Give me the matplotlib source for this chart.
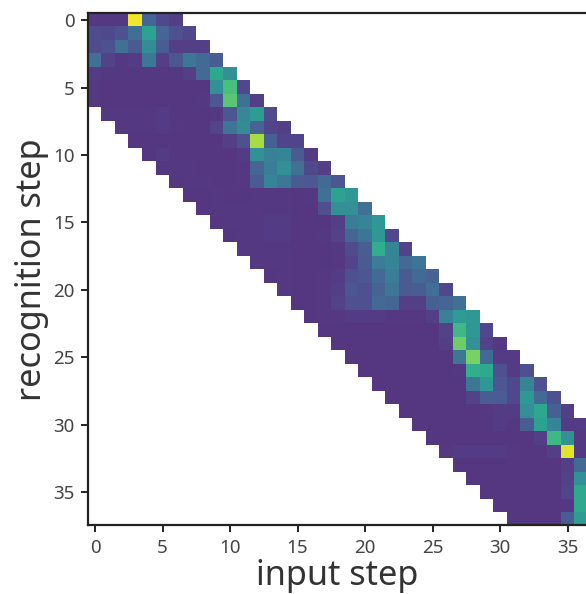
"""Attention map: recognition step vs input step."""
import numpy as np
import matplotlib
matplotlib.use("Agg")
import matplotlib.pyplot as plt

plt.rcParams["font.family"] = ["Noto Sans", "DejaVu Sans"]

N_ROWS = 38
N_COLS = 37
HALF_BAND = 6  # cells kept on each side of the diagonal

# one list per recognition step, starting at column max(0, row - HALF_BAND)
row_00 = [12, 12, 12, 98, 28, 17, 14]
row_01 = [18, 17, 20, 32, 55, 28, 20, 17]
row_02 = [18, 20, 33, 24, 45, 25, 14, 14, 14]
row_03 = [33, 15, 12, 13, 36, 14, 22, 36, 30, 25]
row_04 = [13, 12, 12, 12, 12, 12, 12, 14, 30, 58, 47]
row_05 = [12, 11, 11, 11, 11, 11, 11, 11, 11, 47, 68, 17]
row_06 = [12, 11, 11, 11, 11, 11, 11, 11, 12, 22, 72, 33, 14]
row_07 = [12, 12, 12, 12, 13, 11, 11, 11, 12, 22, 43, 52, 18]
row_08 = [12, 12, 12, 13, 12, 11, 11, 16, 35, 45, 27, 16, 14]
row_09 = [11, 11, 11, 11, 11, 11, 11, 14, 20, 86, 26, 16, 16]
row_10 = [11, 13, 11, 11, 11, 11, 11, 13, 47, 40, 42, 24, 13]
row_11 = [11, 12, 12, 11, 11, 11, 12, 28, 38, 46, 33, 17, 14]
row_12 = [11, 12, 12, 11, 11, 12, 24, 42, 36, 24, 23, 30, 22]
row_13 = [11, 11, 12, 11, 11, 12, 12, 12, 11, 12, 33, 55, 50]
row_14 = [11, 12, 12, 12, 12, 12, 12, 11, 11, 19, 47, 47, 33]
row_15 = [11, 12, 12, 12, 13, 13, 11, 11, 11, 14, 38, 42, 50]
row_16 = [11, 12, 12, 13, 13, 11, 11, 12, 15, 28, 35, 50, 17]
row_17 = [12, 12, 12, 12, 11, 11, 11, 12, 18, 25, 60, 42, 15]
row_18 = [12, 12, 12, 11, 11, 11, 12, 16, 24, 38, 42, 30, 35]
row_19 = [11, 12, 11, 11, 12, 13, 20, 22, 30, 38, 24, 30, 27]
row_20 = [12, 11, 11, 12, 14, 22, 20, 27, 36, 24, 25, 32, 17]
row_21 = [11, 11, 12, 15, 20, 20, 30, 28, 14, 14, 26, 28, 33]
row_22 = [11, 12, 12, 13, 13, 13, 12, 12, 12, 14, 40, 52, 50]
row_23 = [11, 11, 11, 11, 11, 11, 11, 11, 11, 15, 65, 50, 17]
row_24 = [11, 11, 11, 11, 11, 11, 11, 11, 14, 76, 47, 15, 12]
row_25 = [11, 11, 11, 11, 11, 11, 11, 11, 36, 78, 30, 13, 13]
row_26 = [11, 11, 11, 11, 11, 11, 11, 12, 60, 58, 20, 13, 20]
row_27 = [11, 11, 11, 11, 11, 11, 11, 36, 50, 22, 17, 42, 20]
row_28 = [11, 11, 11, 11, 11, 11, 15, 25, 25, 17, 50, 30, 20]
row_29 = [11, 11, 11, 11, 11, 11, 12, 13, 13, 47, 57, 26, 14]
row_30 = [11, 11, 11, 11, 11, 11, 13, 12, 25, 55, 42, 13, 13]
row_31 = [11, 11, 11, 11, 11, 11, 11, 11, 14, 65, 47, 12]
row_32 = [12, 13, 13, 13, 13, 12, 11, 11, 14, 95, 12]
row_33 = [11, 11, 11, 11, 11, 11, 11, 11, 14, 30]
row_34 = [11, 11, 11, 11, 11, 11, 11, 15, 47]
row_35 = [11, 11, 11, 11, 11, 11, 16, 58]
row_36 = [11, 11, 11, 11, 11, 12, 58]
row_37 = [11, 11, 11, 11, 25, 52]

rows = [
    row_00, row_01, row_02, row_03, row_04, row_05, row_06, row_07,
    row_08, row_09, row_10, row_11, row_12, row_13, row_14, row_15,
    row_16, row_17, row_18, row_19, row_20, row_21, row_22, row_23,
    row_24, row_25, row_26, row_27, row_28, row_29, row_30, row_31,
    row_32, row_33, row_34, row_35, row_36, row_37,
]

x_ticks = [0, 5, 10, 15, 20, 25, 30, 35]
y_ticks = [0, 5, 10, 15, 20, 25, 30, 35]

attention = np.full((N_ROWS, N_COLS), np.nan)
for r, vals in enumerate(rows):
    start = max(0, r - HALF_BAND)
    attention[r, start:start + len(vals)] = vals

W, H = 586, 594
fig = plt.figure(figsize=(W / 100, H / 100), dpi=100)
ax = fig.add_axes([88.3 / W, (H - 525.3) / H, (W - 88.3) / W, (525.3 - 13.3) / H])

ax.imshow(attention, cmap="viridis", vmin=0, vmax=100, alpha=0.93,
          interpolation="nearest", aspect="auto")
ax.set_xlim(-0.5, 36.37)
ax.set_ylim(37.45, -0.5)

ax.set_xticks(x_ticks)
ax.set_yticks(y_ticks)
ax.tick_params(length=5, width=1.4, color="#222222", labelcolor="#444444",
               labelsize=13.5, pad=5)
for side in ("left", "top", "bottom"):
    ax.spines[side].set_linewidth(1.6)
    ax.spines[side].set_color("#222222")
ax.spines["right"].set_visible(False)

ax.set_xlabel("input step", fontsize=24.7, color="#333333", labelpad=1)
ax.set_ylabel("recognition step", fontsize=24.7, color="#333333", labelpad=3)

fig.savefig("out.png", dpi=100)
